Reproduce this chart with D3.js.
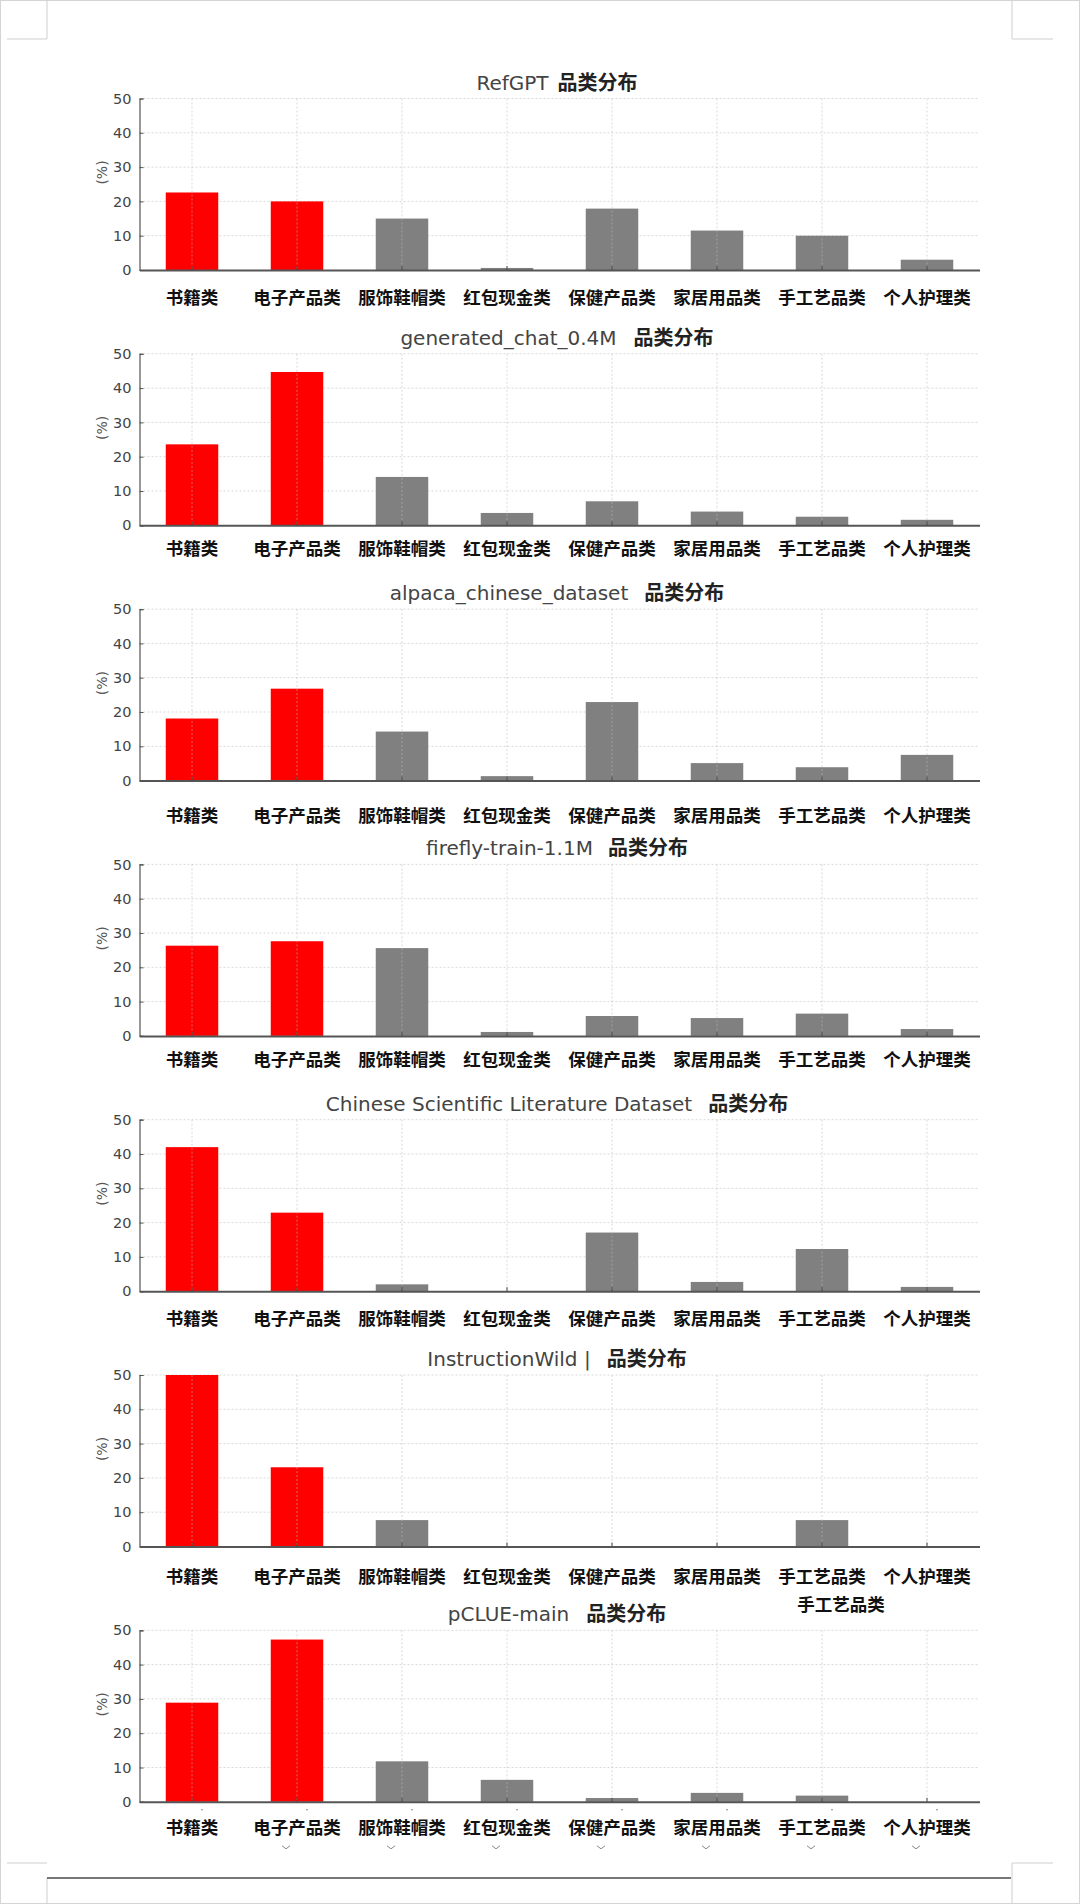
<!DOCTYPE html>
<html>
<head>
<meta charset="utf-8">
<script src="https://cdn.jsdelivr.net/npm/d3@7"></script>
<style>
  html, body { margin: 0; padding: 0; background: #fff; }
  svg { display: block; }
</style>
</head>
<body>
<div id="chart"></div>
<script>
// categories and series
const categories = ['书籍类', '电子产品类', '服饰鞋帽类', '红包现金类', '保健产品类', '家居用品类', '手工艺品类', '个人护理类'];
const highlighted = ['书籍类', '电子产品类'];
const datasets = ['RefGPT', 'generated_chat_0.4M', 'alpaca_chinese_dataset', 'firefly-train-1.1M',
    'Chinese Scientific Literature Dataset', 'InstructionWild |', 'pCLUE-main'];
const titleSuffix = '品类分布';

const refgpt      = [22.6, 20.0, 15.0, 0.6, 17.9, 11.5, 10.0, 3.0];
const genChat     = [23.6, 44.7, 14.1, 3.6, 7.0, 4.0, 2.5, 1.6];
const alpaca      = [18.1, 26.8, 14.3, 1.3, 22.9, 5.1, 3.9, 7.5];
const firefly     = [26.3, 27.6, 25.6, 1.15, 5.8, 5.2, 6.5, 2.0];
const csl         = [42.0, 22.9, 2.0, 0, 17.1, 2.7, 12.3, 1.25];
const instrWild   = [50.0, 23.1, 7.7, 0, 0, 0, 7.7, 0];
const pclue       = [28.9, 47.3, 11.8, 6.4, 1.1, 2.6, 1.8, 0];
const series = [refgpt, genChat, alpaca, firefly, csl, instrWild, pclue];

const yTicks = [0, 10, 20, 30, 40, 50];

// small per-panel layout tweaks (gap between name and suffix, label drop)
const titleGap = [9, 17, 16, 15, 16, 16, 17];
const labelDrop = [26, 22, 34, 23, 26, 29, 25];

const W = 1080, H = 1904;
const left = 139.5, right = 979.5;
const firstTop = 98.5, panelStep = 255.3, plotH = 171.5;

const svg = d3.select('#chart').append('svg')
    .attr('width', W)
    .attr('height', H);

// page frame and crop marks
svg.append('rect')
    .attr('x', 0.5).attr('y', 0.5)
    .attr('width', W - 1).attr('height', H - 1)
    .attr('fill', 'none').attr('stroke', '#d4d4d4');

const marks = [
    [47, 0, 47, 39], [7, 39, 47, 39],
    [1012, 0, 1012, 39], [1012, 39, 1053, 39],
    [7, 1863, 47, 1863], [47, 1878, 47, H],
    [1012, 1863, 1012, H], [1012, 1863, 1053, 1863]
];
svg.append('g').selectAll('line')
    .data(marks)
    .enter()
    .append('line')
    .attr('x1', d => d[0]).attr('y1', d => d[1])
    .attr('x2', d => d[2]).attr('y2', d => d[3])
    .attr('stroke', '#cfcfcf').attr('stroke-width', 1);

svg.append('line')
    .attr('x1', 47).attr('x2', 1011)
    .attr('y1', 1878).attr('y2', 1878)
    .attr('stroke', '#4a4a4a').attr('stroke-width', 1.5);

const x = d3.scaleBand()
    .domain(categories)
    .range([left, right])
    .paddingInner(0.5)
    .paddingOuter(0.25);

const cx = d => x(d) + x.bandwidth() / 2;

series.forEach((values, i) => {
    const top = firstTop + i * panelStep;
    const base = top + plotH;
    const y = d3.scaleLinear().domain([0, 50]).range([base, top]);

    const g = svg.append('g').attr('class', 'panel');

    // horizontal grid
    g.append('g')
        .selectAll('line')
        .data(yTicks.filter(t => t > 0))
        .enter()
        .append('line')
        .attr('x1', left).attr('x2', right)
        .attr('y1', d => y(d)).attr('y2', d => y(d))
        .attr('stroke', '#d9d9d9')
        .attr('stroke-dasharray', '2,2');

    // bars
    g.append('g')
        .selectAll('rect')
        .data(categories.map((c, k) => ({ c, v: values[k] })))
        .enter()
        .append('rect')
        .attr('x', d => x(d.c))
        .attr('width', x.bandwidth())
        .attr('y', d => y(d.v))
        .attr('height', d => base - y(d.v))
        .attr('fill', d => highlighted.includes(d.c) ? '#ff0000' : '#808080');

    // vertical grid over the bars
    g.append('g')
        .selectAll('line')
        .data(categories)
        .enter()
        .append('line')
        .attr('x1', cx).attr('x2', cx)
        .attr('y1', top).attr('y2', base)
        .attr('stroke', '#bbbbbb')
        .attr('stroke-opacity', 0.55)
        .attr('stroke-dasharray', '2,2');

    // y axis
    const yAxis = d3.axisLeft(y)
        .tickValues(yTicks)
        .tickSize(-4)
        .tickPadding(8);
    const ya = g.append('g')
        .attr('transform', `translate(${left},0)`)
        .call(yAxis);
    ya.select('.domain')
        .attr('stroke', '#555')
        .attr('stroke-width', 1.2);
    ya.selectAll('.tick line').attr('stroke', '#555');
    ya.selectAll('.tick text')
        .attr('fill', '#444')
        .style('font-family', '"DejaVu Sans", sans-serif')
        .style('font-size', '14.5px');

    // x axis
    const xAxis = d3.axisBottom(x)
        .tickSize(-4)
        .tickSizeOuter(0)
        .tickFormat('');
    const xa = g.append('g')
        .attr('transform', `translate(0,${base})`)
        .call(xAxis);
    xa.select('.domain')
        .attr('stroke', '#555')
        .attr('stroke-width', 2);
    xa.selectAll('.tick line').attr('stroke', '#444');

    g.append('g')
        .selectAll('text')
        .data(categories)
        .enter()
        .append('text')
        .attr('x', cx)
        .attr('y', base + labelDrop[i])
        .attr('text-anchor', 'middle')
        .attr('dominant-baseline', 'central')
        .attr('fill', '#111')
        .style('font-family', '"Noto Sans CJK SC", sans-serif')
        .style('font-weight', 600)
        .style('font-size', '17.5px')
        .text(d => d);

    // y label
    g.append('text')
        .attr('transform', `translate(102,${top + 74}) rotate(-90)`)
        .attr('text-anchor', 'middle')
        .attr('dominant-baseline', 'central')
        .attr('fill', '#555')
        .style('font-family', '"DejaVu Sans", sans-serif')
        .style('font-size', '14px')
        .text('(%)');

    // title
    const title = g.append('text')
        .attr('x', 557)
        .attr('y', top - 9)
        .attr('text-anchor', 'middle');
    title.append('tspan')
        .attr('fill', '#444')
        .style('font-family', '"DejaVu Sans", sans-serif')
        .style('font-size', '20px')
        .text(datasets[i]);
    title.append('tspan')
        .attr('dx', titleGap[i])
        .attr('fill', '#222')
        .style('font-family', '"Noto Sans CJK SC", sans-serif')
        .style('font-weight', 700)
        .style('font-size', '20px')
        .text(titleSuffix);
});

// stray repeated label under the InstructionWild panel
const wildBase = firstTop + 5 * panelStep + plotH;
svg.append('text')
    .attr('x', cx('手工艺品类') + 19)
    .attr('y', wildBase + 57)
    .attr('text-anchor', 'middle')
    .attr('dominant-baseline', 'central')
    .attr('fill', '#111')
    .style('font-family', '"Noto Sans CJK SC", sans-serif')
    .style('font-weight', 600)
    .style('font-size', '17.5px')
    .text('手工艺品类');

// little scan marks under the last panel
const lastBase = firstTop + 6 * panelStep + plotH;
svg.append('g')
    .selectAll('circle')
    .data(categories)
    .enter()
    .append('circle')
    .attr('cx', d => cx(d) + 10)
    .attr('cy', lastBase + 8)
    .attr('r', 0.8)
    .attr('fill', '#777');

svg.append('g')
    .selectAll('path')
    .data(categories.slice(1))
    .enter()
    .append('path')
    .attr('d', d => `M${cx(d) - 15},${lastBase + 44} L${cx(d) - 11},${lastBase + 47} L${cx(d) - 7},${lastBase + 44}`)
    .attr('fill', 'none')
    .attr('stroke', '#888')
    .attr('stroke-width', 1);
</script>
</body>
</html>
